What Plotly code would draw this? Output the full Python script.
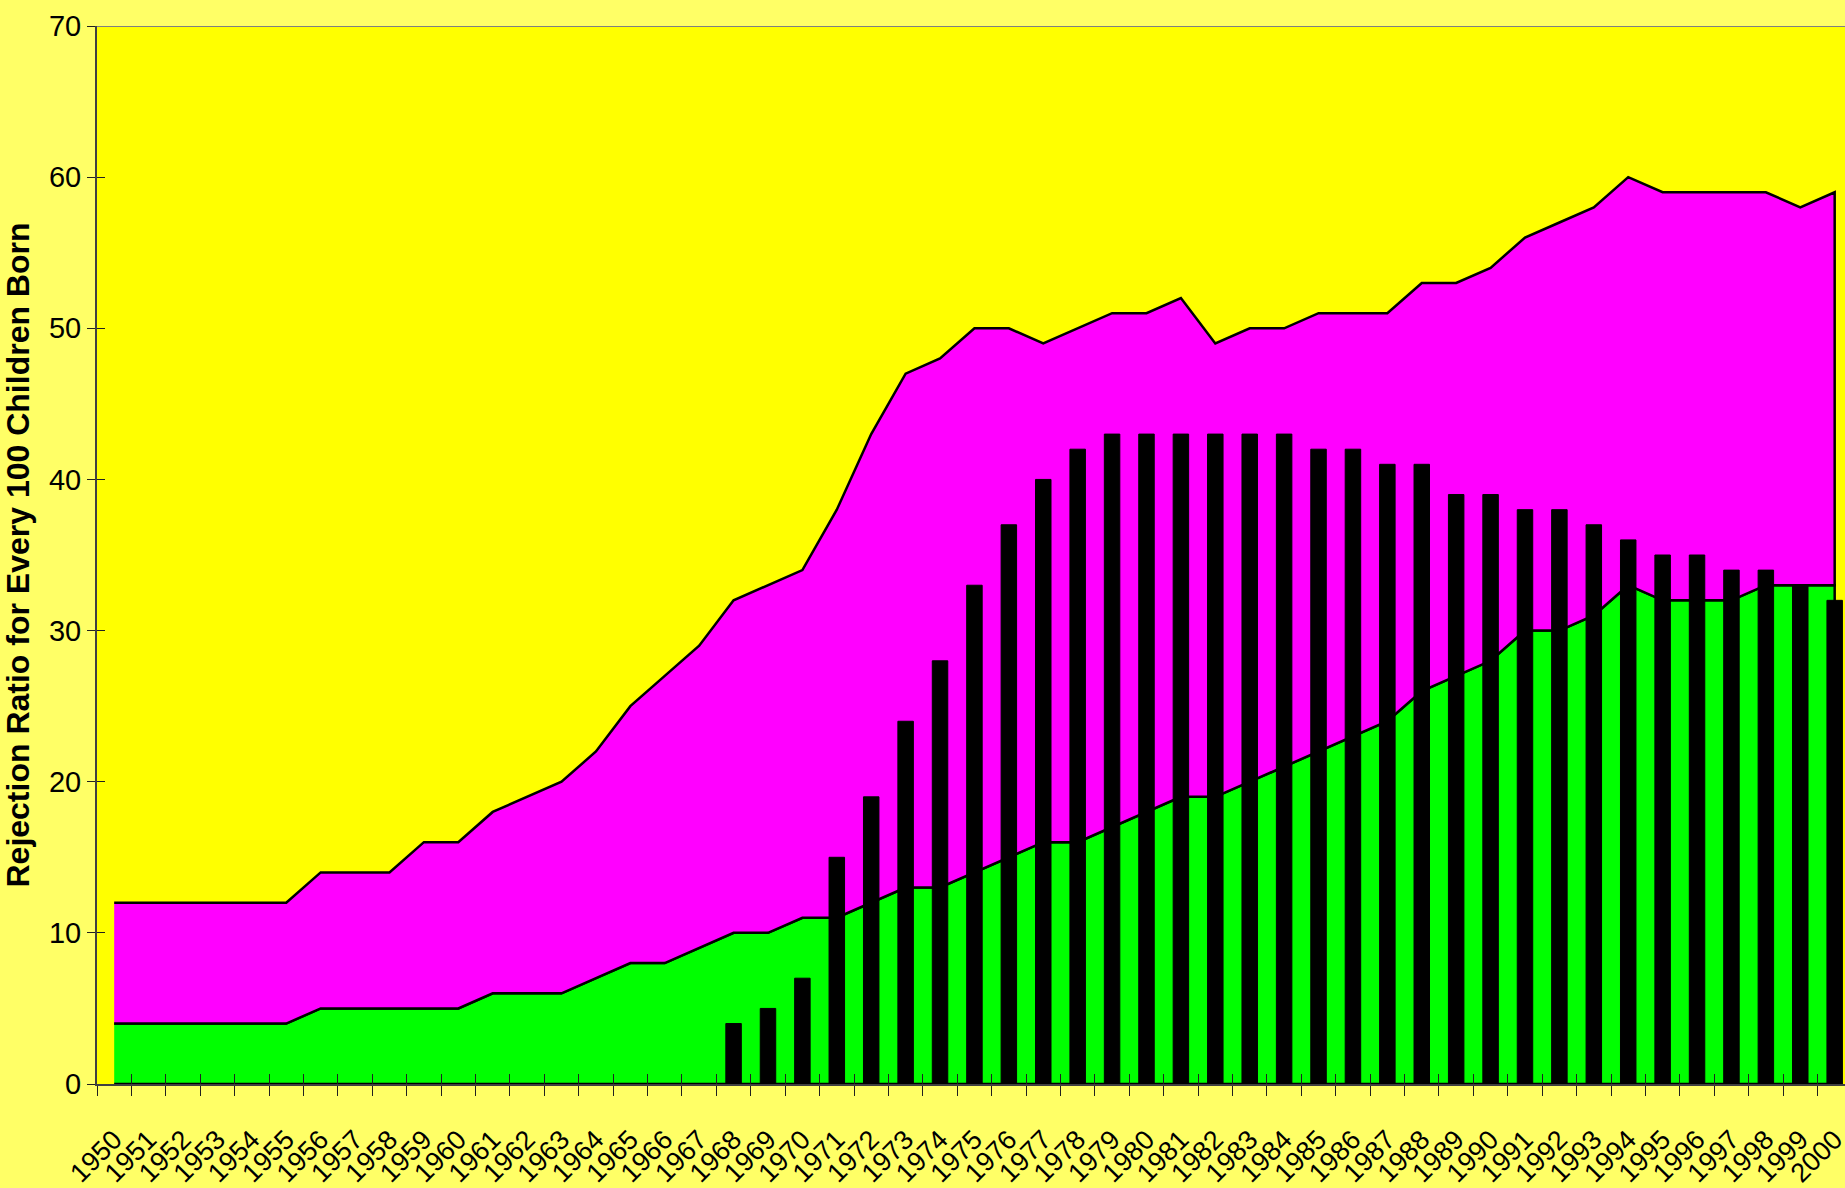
import plotly.graph_objects as go

# categorias (anos)
anos = [str(a) for a in range(1950, 2001)]

# serie inferior (verde)
verde = [4, 4, 4, 4, 4, 4, 5, 5, 5, 5, 5, 6, 6, 6, 7, 8, 8, 9, 10, 10,
         11, 11, 12, 13, 13, 14, 15, 16, 16, 17, 18, 19, 19, 20, 21, 22, 23, 24, 26, 27,
         28, 30, 30, 31, 33, 32, 32, 32, 33, 33, 33]

# serie empilhada por cima (magenta)
magenta = [8, 8, 8, 8, 8, 8, 9, 9, 9, 11, 11, 12, 13, 14, 15, 17, 19, 20, 22, 23,
           23, 27, 31, 34, 35, 36, 35, 33, 34, 34, 33, 33, 30, 30, 29, 29, 28, 27, 27, 26,
           26, 26, 27, 27, 27, 27, 27, 27, 26, 25, 26]

# barras pretas (1968 - 2000)
anos_barras = anos[18:]
barras = [4, 5, 7, 15, 19, 24, 28, 33, 37, 40, 42, 43, 43, 43, 43, 43, 43, 42, 42, 41,
          41, 39, 39, 38, 38, 37, 36, 35, 35, 34, 34, 33, 32]

total = [v + m for v, m in zip(verde, magenta)]

fonte_eixo = "Liberation Sans Narrow, Arial Narrow, Liberation Sans, Arial"
faixa_x = [-0.5, 50.3]

fig = go.Figure()

# areas como poligonos (contorno preto em volta, como no Excel)
fig.add_trace(go.Scatter(
    x=anos + anos[::-1], y=verde + [0] * len(anos),
    fill="toself", fillcolor="#00FF00", mode="lines",
    line=dict(color="black", width=2.5), hoverinfo="skip", showlegend=False,
))
fig.add_trace(go.Scatter(
    x=anos + anos[::-1], y=total + verde[::-1],
    fill="toself", fillcolor="#FF00FF", mode="lines",
    line=dict(color="black", width=2.5), hoverinfo="skip", showlegend=False,
))

# barras no eixo sobreposto para ficarem por cima das areas
fig.add_trace(go.Bar(
    x=anos_barras, y=barras, xaxis="x2", yaxis="y2",
    marker=dict(color="black", line=dict(color="black", width=1)),
    showlegend=False,
))

fig.update_layout(
    width=1845, height=1188,
    margin=dict(l=97, r=0, t=26, b=104),
    paper_bgcolor="#FFFF66",
    plot_bgcolor="#FFFF00",
    bargap=0.55,
    xaxis=dict(
        type="category", categoryorder="array", categoryarray=anos,
        range=faixa_x, tickson="boundaries", tickmode="linear", tick0=0, dtick=1,
        ticks="outside", ticklen=10, tickcolor="#202020", tickwidth=1,
        tickangle=-45, tickfont=dict(family=fonte_eixo, size=27, color="black"),
        ticklabelstandoff=27, automargin=False,
        showline=True, linecolor="#404040", linewidth=2,
        showgrid=False, zeroline=False, fixedrange=True,
    ),
    yaxis=dict(
        range=[0, 70], dtick=10,
        ticks="outside", ticklen=8, tickcolor="#202020", tickwidth=1,
        tickfont=dict(family=fonte_eixo, size=29, color="black"),
        showline=True, linecolor="#404040", linewidth=2,
        showgrid=False, zeroline=False, automargin=False,
        title=dict(
            text="Rejection Ratio for Every 100 Children Born",
            font=dict(family="Liberation Sans, Arial", size=32, color="black", weight="bold"),
            standoff=14,
        ),
    ),
    xaxis2=dict(
        type="category", categoryorder="array", categoryarray=anos,
        range=faixa_x, overlaying="x", tickson="boundaries", tickmode="linear", tick0=0, dtick=1,
        ticks="inside", ticklen=10, tickcolor="#202020", tickwidth=1,
        showticklabels=False, showgrid=False, zeroline=False, showline=False,
    ),
    yaxis2=dict(
        range=[0, 70], dtick=10, overlaying="y",
        ticks="inside", ticklen=8, tickcolor="#202020", tickwidth=1,
        showticklabels=False, showgrid=False, zeroline=False, showline=False,
    ),
    shapes=[dict(type="line", xref="paper", yref="y", x0=0, x1=1, y0=70, y1=70,
                 line=dict(color="#808080", width=2))],
)

# tira a margem padrao do body para o grafico ocupar a janela toda
fig.write_html("out.html", config={"displayModeBar": False},
               post_script="document.body.style.margin='0';document.body.style.background='#FFFF66';")
